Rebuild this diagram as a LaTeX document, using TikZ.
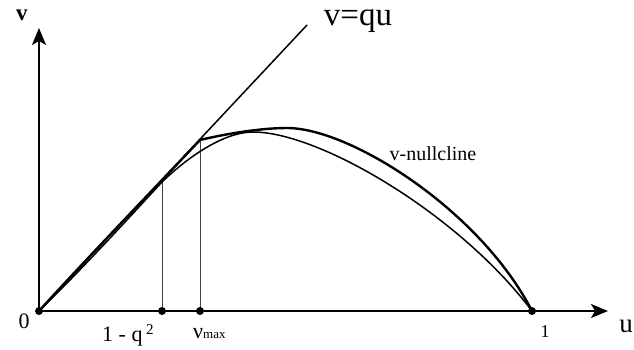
\documentclass[tikz,border=0pt]{standalone}
\usepackage{fontspec}
\setmainfont{Liberation Serif}
\usetikzlibrary{arrows.meta}
\tikzset{
  axis/.style={line width=1.4pt,-{Stealth[length=17pt,width=14pt,inset=4pt]}},
  qline/.style={line width=1.5pt},
  thickcurve/.style={line width=2.4pt,line join=round,line cap=round},
  thincurve/.style={line width=1.5pt,line join=round,line cap=round},
  vline/.style={line width=1pt,black!75},
  dotnode/.style={circle,fill=black,inner sep=0pt,minimum size=8pt},
  lbl/.style={inner sep=0pt,font=\fontsize{22}{22}\selectfont}
}
\begin{document}
\begin{tikzpicture}[x=1pt,y=-1pt]
\useasboundingbox (0,0) rectangle (634,349);
% key coordinates
\coordinate (O) at (39,311);
\coordinate (Ytip) at (39,28);
\coordinate (Xtip) at (608,311);
\coordinate (Qend) at (307,25);
\coordinate (Pa) at (162,182);
\coordinate (Pb) at (200,140);
\coordinate (Ta) at (287,128);
\coordinate (Tb) at (253,132);
\coordinate (E) at (532,311);
\coordinate (Ab) at (162,311);
\coordinate (Bb) at (200,311);
% axes
\draw[axis] (O) -- (Ytip);
\draw[axis] (O) -- (Xtip);
% line v = qu
\draw[qline] (O) -- (Qend);
% vertical lines
\draw[vline] (Ab) -- (Pa);
\draw[vline] (Bb) -- (Pb);
% thick curve (v-nullcline)
\draw[thickcurve] (O) .. controls (90,255) and (150,193) .. (Pb)
  .. controls (225,134) and (260,128) .. (Ta)
  .. controls (350,128) and (480,210) .. (E);
% thin curve
\draw[thincurve] (O) .. controls (85,266) and (125,222) .. (Pa)
  .. controls (190,155) and (225,132) .. (Tb)
  .. controls (320,132) and (460,215) .. (E);
% dots
\node[dotnode] (d0) at (O) {};
\node[dotnode] (d1) at (Ab) {};
\node[dotnode] (d2) at (Bb) {};
\node[dotnode] (d3) at (E) {};
% labels
\node[lbl,anchor=base,font=\fontsize{23}{23}\selectfont\bfseries] (lv) at (22,20) {v};
\node[lbl,anchor=base,font=\fontsize{33}{33}\selectfont] (lvqu) at (358,25) {v=qu};
\node[lbl,anchor=base,font=\fontsize{20}{20}\selectfont] (lnull) at (433,160) {v-nullcline};
\node[lbl,anchor=base] (l0) at (24,328) {0};
\node[lbl,anchor=base west] (lq) at (102,341) {1 - q\,\raisebox{7pt}{\fontsize{15}{15}\selectfont 2}};
\node[lbl,anchor=base west] (lnu) at (193,338) {ν{\fontsize{13}{13}\selectfont max}};
\node[lbl,anchor=base,font=\fontsize{18}{18}\selectfont] (l1) at (545,337) {1};
\node[lbl,anchor=base,font=\fontsize{27}{27}\selectfont] (lu) at (626,332) {u};
\end{tikzpicture}
\end{document}
